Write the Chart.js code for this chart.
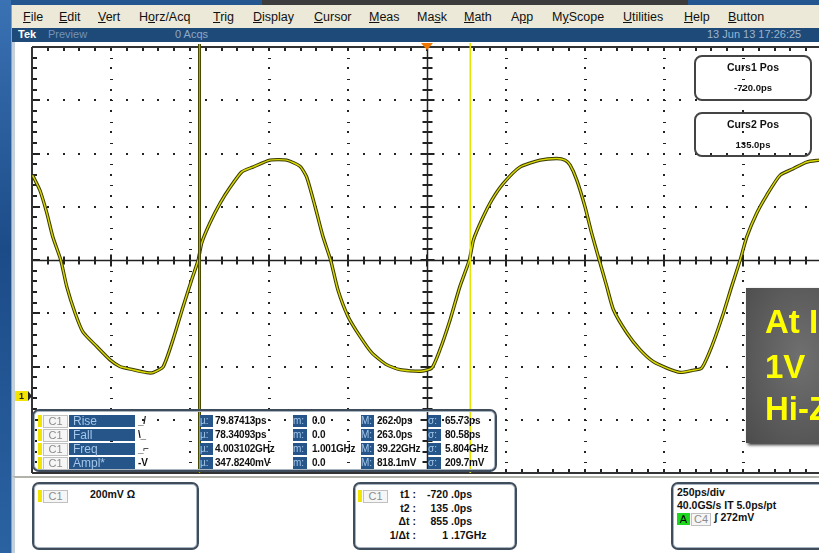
<!DOCTYPE html>
<html>
<head>
<meta charset="utf-8">
<script src="https://cdn.jsdelivr.net/npm/chart.js@4.4.1/dist/chart.umd.min.js"></script>
<style>
  body { margin: 0; width: 819px; height: 553px; overflow: hidden; position: relative;
         background: #24578f; font-family: "Liberation Sans", Arial, sans-serif; }
  .a { position: absolute; white-space: nowrap; }
  #desk { left: 0; top: 0; width: 11px; height: 553px; background: linear-gradient(#3a72b4, #1c4c88 45%, #2a62a2); }
  #darkbar { left: 262px; top: 0; width: 426px; height: 6px; background: #3c3c3c; border-bottom: 1px solid #777; }
  #win { left: 11px; top: 5px; width: 820px; height: 548px; background: #ece9d8; border-left: 1px solid #8aa0b8; }
  #menu span { position: absolute; top: 5px; font-size: 12.5px; color: #111; white-space: nowrap; }
  #status { left: 12px; top: 28px; width: 820px; height: 14px; background: #1d4a78; font-size: 11px; }
  #status span { position: absolute; top: 0px; }
  #plotbg { left: 12px; top: 42px; width: 820px; height: 434px; background: #fff; border-left: 3px solid #c4d0dc; }
  #bottom { left: 12px; top: 476px; width: 820px; height: 75px; background: #fff; border-top: 2px solid #b2b2a8; border-left: 3px solid #c4d0dc; }
  #chart { position: absolute; left: 15px; top: 42px; }
  .box { position: absolute; border: 2px solid #3e4c5c; border-radius: 7px; box-shadow: inset 0 0 0 1px #a8b4c0; }
  .cbox { position: absolute; border: 2px solid #444; border-radius: 8px; }
  .yel { position: absolute; width: 4px; height: 12px; background: #f0e400; }
  .c1 { position: absolute; height: 11px; width: 23px; background: #f6f6f6; border: 1px solid #c0c0c0;
        color: #8c8c8c; font-size: 11px; line-height: 11px; text-align: center; }
  .blue { position: absolute; height: 12px; background: #255589; color: #a4c6ea; font-size: 12px; line-height: 12px; white-space: nowrap; }
  .val { position: absolute; font-size: 10px; font-weight: bold; color: #111; line-height: 12px; letter-spacing: -0.2px; white-space: nowrap; }
  .sm { position: absolute; font-size: 10.5px; font-weight: bold; color: #111; white-space: nowrap; }
  #note { left: 746px; top: 288px; width: 110px; height: 155px;
          background: radial-gradient(ellipse at 50% 45%, #707070, #4c4c4c); box-shadow: 2px 2px 3px #333; }
  .big { position: absolute; left: 765px; font-size: 33px; line-height: 33px; font-weight: bold; color: #ffff00; white-space: nowrap; }
</style>
</head>
<body>
<div id="desk" class="a"></div>
<div id="darkbar" class="a"></div>
<div id="win" class="a">
  <div id="menu">
    <span style="left:11px"><u>F</u>ile</span>
    <span style="left:47px"><u>E</u>dit</span>
    <span style="left:86px"><u>V</u>ert</span>
    <span style="left:127px">H<u>o</u>rz/Acq</span>
    <span style="left:201px"><u>T</u>rig</span>
    <span style="left:241px"><u>D</u>isplay</span>
    <span style="left:302px"><u>C</u>ursor</span>
    <span style="left:357px"><u>M</u>eas</span>
    <span style="left:405px">Ma<u>s</u>k</span>
    <span style="left:452px"><u>M</u>ath</span>
    <span style="left:499px">A<u>p</u>p</span>
    <span style="left:540px">M<u>y</u>Scope</span>
    <span style="left:611px"><u>U</u>tilities</span>
    <span style="left:672px"><u>H</u>elp</span>
    <span style="left:716px"><u>B</u>utton</span>
  </div>
</div>
<div id="status" class="a">
  <span style="left:6px;color:#fff;font-weight:bold">Tek</span>
  <span style="left:36px;color:#7494b8">Preview</span>
  <span style="left:163px;color:#8ea8c6">0 Acqs</span>
  <span style="left:695px;color:#9cb4d0">13 Jun 13 17:26:25</span>
</div>
<div id="plotbg" class="a"></div>
<div id="bottom" class="a"></div>
<canvas id="chart" width="807" height="434"></canvas>

<!-- cursor readouts top right -->
<div class="cbox" style="left:694px;top:55px;width:114px;height:42px"></div>
<div class="sm" style="left:694px;top:61px;width:118px;text-align:center">Curs1 Pos</div>
<div class="sm" style="left:694px;top:82px;width:118px;text-align:center;font-size:9.5px">-720.0ps</div>
<div class="cbox" style="left:694px;top:112px;width:114px;height:41px"></div>
<div class="sm" style="left:694px;top:118px;width:118px;text-align:center">Curs2 Pos</div>
<div class="sm" style="left:694px;top:139px;width:118px;text-align:center;font-size:9.5px">135.0ps</div>

<!-- measurement table -->
<div class="box" style="left:32px;top:409px;width:461px;height:59px"></div>
<div id="meas"></div>

<!-- note box -->
<div id="note" class="a"></div>
<div class="big" style="top:305px">At Input</div>
<div class="big" style="top:350px">1V&nbsp;&nbsp;p-p</div>
<div class="big" style="top:392px">Hi-Z</div>

<!-- bottom readouts -->
<div class="box" style="left:32px;top:482px;width:163px;height:64px"></div>
<div class="yel" style="left:38px;top:490px"></div>
<div class="c1" style="left:43px;top:490px">C1</div>
<div class="sm" style="left:90px;top:488px">200mV Ω</div>

<div class="box" style="left:353px;top:482px;width:160px;height:64px"></div>
<div class="yel" style="left:358px;top:490px"></div>
<div class="c1" style="left:363px;top:490px">C1</div>
<div id="curs"></div>

<div class="box" style="left:671px;top:482px;width:160px;height:64px"></div>
<div class="sm" style="left:677px;top:486px">250ps/div</div>
<div class="sm" style="left:677px;top:499px">40.0GS/s IT 5.0ps/pt</div>
<div class="a" style="left:677px;top:513px;width:13px;height:12px;background:#1ed81e;font-size:11px;line-height:12px;text-align:center">A</div>
<div class="c1" style="left:691px;top:513px;width:18px">C4</div>
<div class="sm" style="left:714px;top:511px">ʃ 272mV</div>

<script>
// waveform: time (ps) vs. voltage (mV, relative to screen centre)
const timePs = [-1248, -1225, -1203, -1184, -1159, -1140, -1114, -1089, -1045, -1003, -972, -931, -887, -867,
  -835, -804, -772, -745, -724, -713, -687, -655, -623, -586, -551, -497, -444, -402, -381, -354, -329, -305,
  -282, -250, -212, -175, -128, -85, -22, 15, 41, 73, 104, 134, 147, 173, 205, 241, 294, 358, 410, 437, 453,
  474, 500, 521, 545, 569, 590, 632, 674, 715, 759, 801, 838, 869, 901, 938, 964, 991, 1012, 1043, 1075,
  1117, 1159, 1202, 1241];
const voltMv = [318, 262, 176, 86, 0, -100, -198, -270, -325, -375, -400, -412, -423, -423,
  -401, -300, -176, -75, 0, 64, 139, 213, 273, 331, 349, 375, 375, 352, 312, 200, 87, 0,
  -112, -212, -287, -348, -393, -412, -418, -406, -337, -225, -100, 0, 75, 150, 225, 287, 349, 375, 381, 375, 356,
  300, 200, 101, 0, -100, -187, -273, -337, -381, -406, -422, -415, -406, -325, -200, -100, 0, 87, 175, 243,
  318, 343, 368, 375];

const cursor1 = -720;
const cursor2 = 135;
const ch1Offset = -510;   // ground marker "1"

const measNames = ['Rise', 'Fall', 'Freq', 'Ampl*'];
const measIcons = ['_/', '\\_', '_⌐', '-V'];
const measMean = ['79.87413ps', '78.34093ps', '4.003102GHz', '347.8240mV'];
const measMin = ['0.0', '0.0', '1.001GHz', '0.0'];
const measMax = ['262.0ps', '263.0ps', '39.22GHz', '818.1mV'];
const measSd = ['65.73ps', '80.58ps', '5.804GHz', '209.7mV'];

const cursLabels = ['t1 :', 't2 :', 'Δt :', '1/Δt :'];
const cursInt = ['-720', '135', '855', '1'];
const cursFrac = ['.0ps', '.0ps', '.0ps', '.17GHz'];

// build measurement rows
let html = '';
measNames.forEach((n, i) => {
  const top = 415 + i * 14;
  html += `<div class="yel" style="left:38px;top:${top}px"></div>`;
  html += `<div class="c1" style="left:43px;top:${top}px">C1</div>`;
  html += `<div class="blue" style="left:69px;top:${top}px;width:62px;padding-left:4px">${n}</div>`;
  html += `<div class="val" style="left:138px;top:${top}px">${measIcons[i]}</div>`;
  html += `<div class="blue" style="left:200px;top:${top}px;width:13px;font-size:10px">µ:</div>`;
  html += `<div class="val" style="left:215px;top:${top}px">${measMean[i]}</div>`;
  html += `<div class="blue" style="left:293px;top:${top}px;width:14px;font-size:10px">m:</div>`;
  html += `<div class="val" style="left:312px;top:${top}px">${measMin[i]}</div>`;
  html += `<div class="blue" style="left:361px;top:${top}px;width:13px;font-size:10px">M:</div>`;
  html += `<div class="val" style="left:377px;top:${top}px">${measMax[i]}</div>`;
  html += `<div class="blue" style="left:428px;top:${top}px;width:13px;font-size:10px">σ:</div>`;
  html += `<div class="val" style="left:445px;top:${top}px">${measSd[i]}</div>`;
});
document.getElementById('meas').innerHTML = html;

let ch = '';
cursLabels.forEach((l, i) => {
  const top = 488 + i * 13.5;
  ch += `<div class="sm" style="left:370px;top:${top}px;width:46px;text-align:right">${l}</div>`;
  ch += `<div class="sm" style="left:418px;top:${top}px;width:30px;text-align:right">${cursInt[i]}</div>`;
  ch += `<div class="sm" style="left:451px;top:${top}px">${cursFrac[i]}</div>`;
});
document.getElementById('curs').innerHTML = ch;

const points = timePs.map((t, i) => ({ x: t, y: voltMv[i] }));

const XDIV = 250, XMINOR = 50, YDIV = 200, YMINOR = 40;

const graticule = {
  id: 'graticule',
  beforeDatasetsDraw(chart) {
    const { ctx, chartArea: a, scales: { x, y } } = chart;
    ctx.save();
    ctx.fillStyle = '#222';
    // dotted division lines
    for (let t = -1000; t <= 1000; t += XDIV) {
      if (t === 0) continue;
      const px = Math.round(x.getPixelForValue(t));
      for (let v = -800 + YMINOR; v < 800; v += YMINOR) {
        const py = Math.round(y.getPixelForValue(v));
        if ((v / YMINOR) % 2) ctx.fillRect(px - 1, py, 3, 1);
        else ctx.fillRect(px - 1, py - 1, 2, 2);
      }
    }
    for (let v = -600; v <= 600; v += YDIV) {
      if (v === 0) continue;
      const py = Math.round(y.getPixelForValue(v));
      for (let t = -1250 + XMINOR; t < 1250; t += XMINOR) {
        const px = Math.round(x.getPixelForValue(t));
        ctx.fillRect(px - 1, py - 1, 2, 2);
      }
    }
    ctx.strokeStyle = '#222';
    // centre axes
    const cx = Math.round(x.getPixelForValue(0)) + 0.5;
    const cy = Math.round(y.getPixelForValue(0)) + 0.5;
    ctx.lineWidth = 1.5;
    ctx.beginPath();
    ctx.moveTo(a.left, cy); ctx.lineTo(a.right, cy);
    ctx.moveTo(cx, a.top); ctx.lineTo(cx, a.bottom);
    ctx.stroke();
    ctx.lineWidth = 2;
    ctx.beginPath();
    for (let t = -1250 + XMINOR; t < 1250; t += XMINOR) {
      const px = Math.round(x.getPixelForValue(t));
      const len = t % XDIV === 0 ? 6 : 4;
      ctx.moveTo(px, cy - len); ctx.lineTo(px, cy + len);
      ctx.moveTo(px, a.top); ctx.lineTo(px, a.top + 4);
      ctx.moveTo(px, a.bottom); ctx.lineTo(px, a.bottom - 4);
    }
    for (let v = -800 + YMINOR; v < 800; v += YMINOR) {
      const py = Math.round(y.getPixelForValue(v));
      const len = v % YDIV === 0 ? 7 : 5;
      ctx.moveTo(cx - len, py); ctx.lineTo(cx + len, py);
      ctx.moveTo(a.left, py); ctx.lineTo(a.left + (v % YDIV === 0 ? 8 : 5), py);
    }
    ctx.stroke();
    // frame
    ctx.lineWidth = 2;
    ctx.strokeStyle = '#333';
    ctx.beginPath();
    ctx.moveTo(a.left, a.top); ctx.lineTo(a.right, a.top);
    ctx.moveTo(a.left, a.top); ctx.lineTo(a.left, a.bottom);
    ctx.moveTo(a.left, a.bottom); ctx.lineTo(a.right, a.bottom);
    ctx.stroke();
    ctx.restore();
  },
  afterDatasetsDraw(chart) {
    const { ctx, chartArea: a, scales: { x, y } } = chart;
    ctx.save();
    // cursor 1 (olive, outlined)
    const c1 = Math.round(x.getPixelForValue(cursor1));
    ctx.fillStyle = '#4a4a00';
    ctx.fillRect(c1 - 1, a.top - 3, 3, a.bottom - a.top + 3);
    ctx.fillStyle = '#a8a800';
    ctx.fillRect(c1, a.top - 3, 1, a.bottom - a.top + 3);
    // cursor 2 (thin yellow)
    const c2 = Math.round(x.getPixelForValue(cursor2));
    ctx.fillStyle = '#e4e400';
    ctx.fillRect(c2 - 0.5, a.top - 4, 1.6, a.bottom - a.top + 4);
    // trigger position marker
    const tx = x.getPixelForValue(0);
    ctx.fillStyle = '#f07800';
    ctx.beginPath();
    ctx.moveTo(tx - 6, a.top - 4); ctx.lineTo(tx + 6, a.top - 4); ctx.lineTo(tx, a.top + 3);
    ctx.closePath(); ctx.fill();
    // channel 1 ground marker
    const gy = Math.round(y.getPixelForValue(ch1Offset));
    ctx.fillStyle = '#f0e400';
    ctx.fillRect(0, gy - 5, 13, 10);
    ctx.fillStyle = '#222';
    ctx.beginPath();
    ctx.moveTo(13, gy - 5); ctx.lineTo(17, gy); ctx.lineTo(13, gy + 5); ctx.closePath(); ctx.fill();
    ctx.font = 'bold 9px "Liberation Sans"';
    ctx.textBaseline = 'middle';
    ctx.fillText('1', 4, gy + 0.5);
    ctx.restore();
  }
};

new Chart(document.getElementById('chart'), {
  type: 'line',
  data: {
    datasets: [
      { data: points, borderColor: '#dada00', borderWidth: 1.4, pointRadius: 0, tension: 0.2 },
      { data: points, borderColor: '#383800', borderWidth: 3.4, pointRadius: 0, tension: 0.2 }
    ]
  },
  options: {
    responsive: false,
    animation: false,
    layout: { padding: { left: 17, top: 5, right: 0, bottom: 3 } },
    scales: {
      x: { type: 'linear', min: -1250, max: 1250, display: false },
      y: { min: -800, max: 800, display: false }
    },
    plugins: { legend: { display: false }, tooltip: { enabled: false } }
  },
  plugins: [graticule]
});
</script>
</body>
</html>
